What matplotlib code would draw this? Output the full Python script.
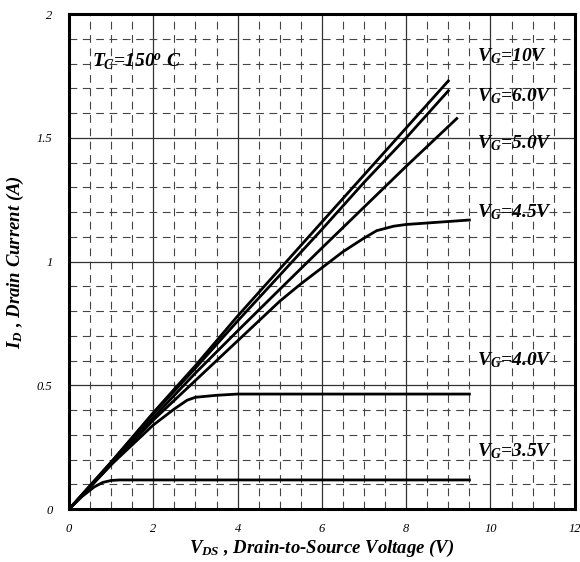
import matplotlib
matplotlib.use("Agg")
import matplotlib.pyplot as plt
from matplotlib.ticker import MultipleLocator

plt.rcParams['font.family'] = 'Liberation Serif'
plt.rcParams['mathtext.fontset'] = 'custom'
plt.rcParams['mathtext.it'] = 'Liberation Serif:bold:italic'
plt.rcParams['mathtext.rm'] = 'Liberation Serif:bold:italic'
plt.rcParams['mathtext.bf'] = 'Liberation Serif:bold:italic'

# Output curves
vds_10 = [0, 0.5, 1, 2, 3, 4, 5, 6, 7, 8, 9]
id_10 = [0, 0.095, 0.19, 0.39, 0.58, 0.78, 0.97, 1.16, 1.35, 1.54, 1.73]

vds_6 = [0, 0.5, 1, 2, 3, 4, 5, 6, 7, 8, 9]
id_6 = [0, 0.095, 0.19, 0.385, 0.57, 0.76, 0.945, 1.13, 1.32, 1.50, 1.69]

vds_5 = [0, 0.5, 1, 2, 3, 4, 5, 6, 7, 8, 9.2]
id_5 = [0, 0.09, 0.185, 0.37, 0.55, 0.72, 0.888, 1.055, 1.22, 1.385, 1.578]

vds_45 = [0, 0.5, 1, 2, 3, 4, 5, 5.5, 6, 6.5, 7, 7.3, 7.7, 8, 9, 9.5]
id_45 = [0, 0.09, 0.18, 0.36, 0.52, 0.68, 0.84, 0.91, 0.975, 1.04, 1.095,
         1.125, 1.143, 1.15, 1.162, 1.168]

vds_40 = [0, 0.5, 1, 1.5, 2, 2.5, 2.8, 3.0, 3.5, 4, 9.5]
id_40 = [0, 0.09, 0.18, 0.26, 0.34, 0.405, 0.44, 0.452, 0.46, 0.465, 0.465]

vds_35 = [0, 0.3, 0.6, 0.8, 1.0, 1.2, 9.5]
id_35 = [0, 0.05, 0.09, 0.108, 0.116, 0.118, 0.118]

curve_x = [vds_10, vds_6, vds_5, vds_45, vds_40, vds_35]
curve_y = [id_10, id_6, id_5, id_45, id_40, id_35]

vg_labels = ['10V', '6.0V', '5.0V', '4.5V', '4.0V', '3.5V']
label_y = [1.83, 1.67, 1.48, 1.20, 0.60, 0.235]

x_ticks = [0, 2, 4, 6, 8, 10, 12]
x_tick_labels = ['0', '2', '4', '6', '8', '10', '12']
y_ticks = [0, 0.5, 1, 1.5, 2]
y_tick_labels = ['0', '0.5', '1', '1.5', '2']

fig = plt.figure(figsize=(5.8, 5.62), dpi=100)
ax = fig.add_axes([0.119, 0.094, 0.872, 0.881])

ax.set_xlim(0, 12)
ax.set_ylim(0, 2)
ax.set_xticks(x_ticks)
ax.set_xticklabels(x_tick_labels, style='italic')
ax.set_yticks(y_ticks)
ax.set_yticklabels(y_tick_labels, style='italic')
ax.xaxis.set_minor_locator(MultipleLocator(0.5))
ax.yaxis.set_minor_locator(MultipleLocator(0.1))

ax.grid(which='major', color='#333333', linewidth=0.9, linestyle='-')
ax.grid(which='minor', color='#444444', linewidth=0.8, linestyle=(0, (7, 5)))
ax.set_axisbelow(True)

for spine in ax.spines.values():
    spine.set_linewidth(2.2)

ax.tick_params(which='both', length=0, labelsize=9)
ax.tick_params(axis='x', pad=10)
ax.tick_params(axis='y', pad=12)

for xs, ys in zip(curve_x, curve_y):
    ax.plot(xs, ys, color='black', linewidth=2)

for lab, ly in zip(vg_labels, label_y):
    ax.text(9.68, ly, r'$V_G$=' + lab, fontsize=14, fontweight='bold',
            style='italic', ha='left', va='center')

ax.text(0.55, 1.806, r'$T_C$=150$^o$ C', fontsize=14, fontweight='bold',
        style='italic', ha='left', va='center')

ax.set_xlabel(r'$V_{DS}$ , Drain-to-Source Voltage (V)', fontsize=13.5,
              fontweight='bold', style='italic', labelpad=2)
ax.set_ylabel(r'$I_D$ , Drain Current (A)', fontsize=13.5,
              fontweight='bold', style='italic', labelpad=8)

fig.savefig('out.png', dpi=100)
